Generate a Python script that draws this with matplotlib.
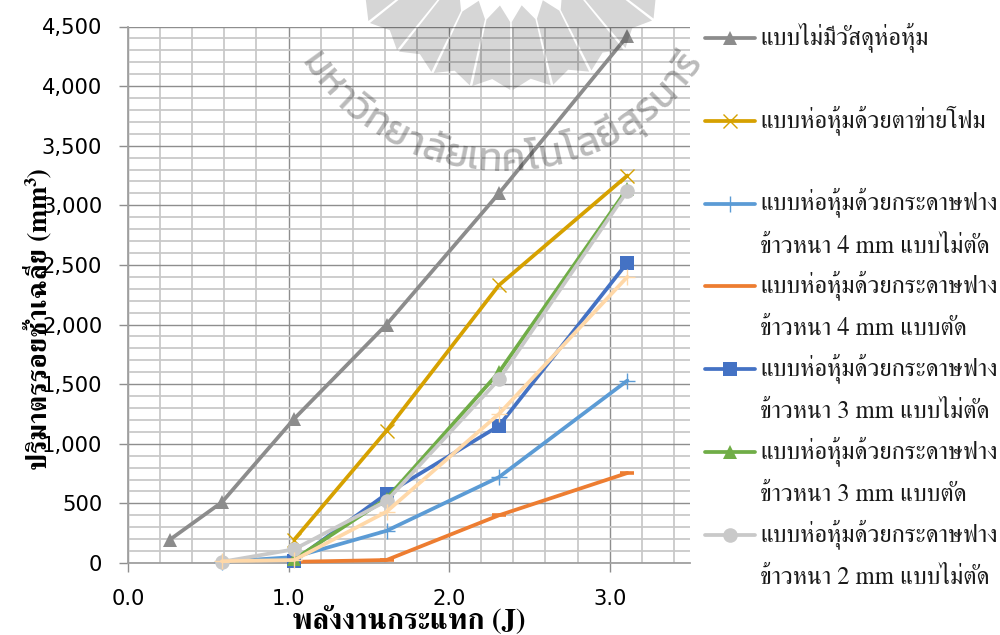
import numpy as np
import matplotlib
matplotlib.use('Agg')
import matplotlib.pyplot as plt
from matplotlib.font_manager import FontProperties
from matplotlib.textpath import TextPath
from matplotlib.ticker import MultipleLocator, StrMethodFormatter

THAI_SERIF = ['FreeSerif', 'Noto Serif Thai', 'DejaVu Sans']
THAI_SANS = ['Kanit', 'Noto Sans Thai', 'DejaVu Sans']

# ข้อมูลที่อ่านจากกราฟ
x_none = [0.26, 0.585, 1.035, 1.61, 2.31, 3.11]
y_none = [195, 510, 1210, 2000, 3100, 4420]
x_foam = [1.035, 1.61, 2.31, 3.11]
y_foam = [195, 1110, 2330, 3250]
x_4_uncut = [0.585, 1.035, 1.61, 2.31, 3.11]
y_4_uncut = [10, 50, 270, 720, 1530]
x_4_cut = [1.035, 1.61, 2.31, 3.11]
y_4_cut = [10, 25, 400, 755]
x_3_uncut = [1.035, 1.61, 2.31, 3.11]
y_3_uncut = [20, 580, 1150, 2520]
x_3_cut = [1.035, 1.61, 2.31, 3.11]
y_3_cut = [30, 540, 1600, 3140]
x_2_uncut = [0.585, 1.035, 1.61, 2.31, 3.11]
y_2_uncut = [10, 115, 520, 1540, 3120]
x_extra = [0.585, 1.035, 1.61, 2.31, 3.11]
y_extra = [15, 25, 430, 1250, 2400]

legend_rows = [
    ('แบบไม่มีวัสดุห่อหุ้ม', None),
    ('แบบห่อหุ้มด้วยตาข่ายโฟม', None),
    ('แบบห่อหุ้มด้วยกระดาษฟาง', 'ข้าวหนา 4 mm แบบไม่ตัด'),
    ('แบบห่อหุ้มด้วยกระดาษฟาง', 'ข้าวหนา 4 mm แบบตัด'),
    ('แบบห่อหุ้มด้วยกระดาษฟาง', 'ข้าวหนา 3 mm แบบไม่ตัด'),
    ('แบบห่อหุ้มด้วยกระดาษฟาง', 'ข้าวหนา 3 mm แบบตัด'),
    ('แบบห่อหุ้มด้วยกระดาษฟาง', 'ข้าวหนา 2 mm แบบไม่ตัด'),
]
watermark = ['ม', 'ห', 'า', 'วิ', 'ท', 'ย', 'า', 'ลั', 'ย', 'เ', 'ท', 'ค', 'โ', 'น', 'โ', 'ล', 'ยี', 'สุ', 'ร', 'น', 'า', 'รี']

series = [
    (x_none, y_none, '#8C8C8C', '^', 10, 0),
    (x_foam, y_foam, '#D6A100', 'x', 10, 1),
    (x_4_uncut, y_4_uncut, '#5B9BD5', '+', 11, 1),
    (x_4_cut, y_4_cut, '#ED7D31', '_', 10, 2.6),
    (x_3_uncut, y_3_uncut, '#4472C4', 's', 10, 0),
    (x_3_cut, y_3_cut, '#70AD47', '^', 10, 0),
    (x_2_uncut, y_2_uncut, '#C9C9C9', 'o', 10.5, 0),
    (x_extra, y_extra, '#FFD8A8', '+', 11, 1),
]

fig = plt.figure(figsize=(10, 6.35), dpi=100)
ax = fig.add_axes([128 / 1000, 1 - 563 / 635, 562 / 1000, 536.5 / 635])

for xs, ys, col, mk, ms, mew in series:
    ax.plot(xs, ys, color=col, lw=2.7, marker=mk, ms=ms, mew=mew, mec=col, solid_capstyle='round', clip_on=False, zorder=3)

ax.set_xlim(0, 3.5)
ax.set_ylim(0, 4500)
ax.xaxis.set_major_locator(MultipleLocator(1))
ax.xaxis.set_minor_locator(MultipleLocator(0.2))
ax.yaxis.set_major_locator(MultipleLocator(500))
ax.yaxis.set_minor_locator(MultipleLocator(100))
ax.xaxis.set_major_formatter(StrMethodFormatter('{x:.1f}'))
ax.yaxis.set_major_formatter(StrMethodFormatter('{x:,.0f}'))
ax.grid(which='minor', color='#C9C9C9', lw=1.3)
ax.grid(which='major', color='#8E8E8E', lw=1.0)
ax.set_axisbelow(True)
ax.tick_params(which='minor', length=0)
ax.tick_params(axis='y', which='major', length=6.5, width=1, color='#8E8E8E', pad=12, labelsize=15.2)
ax.tick_params(axis='x', which='major', length=6.5, width=1, color='#8E8E8E', pad=12.5, labelsize=15.2)
for side in ['top', 'right']:
    ax.spines[side].set_visible(False)
for side in ['left', 'bottom']:
    ax.spines[side].set_color('#A0A0A0')
    ax.spines[side].set_linewidth(1.3)

ax.set_xlabel('พลังงานกระแทก (J)', family=THAI_SERIF, fontweight='bold', fontsize=20.9, va='baseline')
ax.xaxis.set_label_coords(0.5, -0.121)
ax.set_ylabel('ปริมาตรรอยช้ำเฉลี่ย (mm³)', family=THAI_SERIF, fontweight='bold', fontsize=20, va='baseline')
ax.yaxis.set_label_coords(-0.145, 0.455)

# ชั้นบนเป็นพิกัดพิกเซล สำหรับลายน้ำและคำอธิบาย
pix = fig.add_axes([0, 0, 1, 1], zorder=5)
pix.set_xlim(0, 1000)
pix.set_ylim(635, 0)
pix.axis('off')

# ตราลายน้ำ
cx, cy = 510, -90
for deg in np.arange(-58, 66, 13):
    a = np.radians([deg - 6.1, deg, deg + 6.1, deg + 6.1, deg, deg - 6.1])
    r = np.array([112, 96, 112, 180, 170, 180])
    pix.fill(cx + r * np.sin(a), cy + r * np.cos(a), color='black', alpha=0.16, lw=0)

# ข้อความลายน้ำโค้ง
wm_font = FontProperties(family='Kanit')
wm_size = 28
wm_cx, wm_cy, wm_r = 502, -69, 240
widths = np.array([TextPath((0, 0), c[0], size=wm_size * 100 / 72, prop=wm_font).get_extents().width + 3 for c in watermark])
edges = np.concatenate([[0], np.cumsum(widths)])
angles = np.radians(-57 + 114 * (edges[:-1] + widths / 2) / edges[-1])
for c, t in zip(watermark, angles):
    pix.text(wm_cx + wm_r * np.sin(t), wm_cy + wm_r * np.cos(t), c, rotation=np.degrees(t),
             rotation_mode='anchor', ha='center', va='baseline', family=THAI_SANS,
             fontsize=wm_size, color='black', alpha=0.27)

# คำอธิบายสัญลักษณ์
row_y = 38
for (line1, line2), (xs, ys, col, mk, ms, mew) in zip(legend_rows, series):
    if mk != '_':
        pix.plot([730], [row_y], color=col, marker=mk, ms=ms, mew=mew, mec=col, ls='none')
    pix.plot([705, 755], [row_y, row_y], color=col, lw=2.7, solid_capstyle='round', zorder=1)
    pix.text(760, row_y + 6, line1, family=THAI_SERIF, fontsize=17.7, va='baseline', color='#1A1A1A')
    if line2:
        pix.text(760, row_y + 49, line2, family=THAI_SERIF, fontsize=17.7, va='baseline', color='#1A1A1A')
    row_y += 82.8

fig.savefig('out.png', dpi=100)
